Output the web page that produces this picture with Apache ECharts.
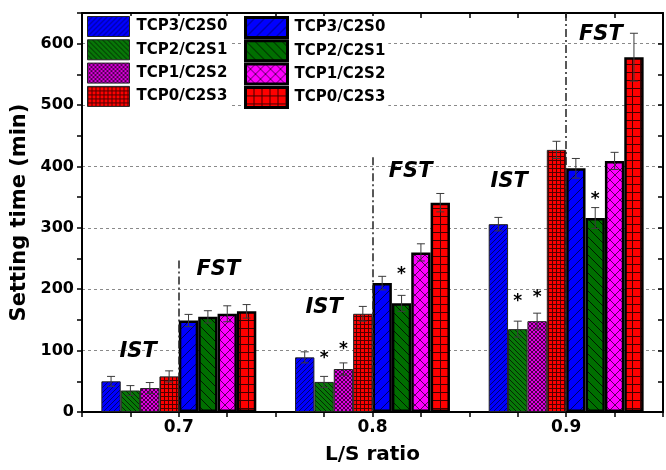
<!DOCTYPE html>
<html>
<head>
<meta charset="utf-8">
<script src="https://cdn.jsdelivr.net/npm/echarts@6/dist/echarts.min.js"></script>
<style>
html,body{margin:0;padding:0;background:#fff;}
#chart{width:666px;height:470px;}
</style>
</head>
<body>
<div id="chart"></div>
<script>
// ---- data ----
const lsRatio = [0.7, 0.8, 0.9];
const seriesNames = ['TCP3/C2S0', 'TCP2/C2S1', 'TCP1/C2S2', 'TCP0/C2S3'];
// IST (initial setting time)
const istTCP3 = [50, 89, 306];
const istTCP2 = [35, 49, 135];
const istTCP1 = [39, 70, 148];
const istTCP0 = [58, 160, 427];
const istErrTCP3 = [8, 9, 11];
const istErrTCP2 = [8, 9, 13];
const istErrTCP1 = [9, 10, 13];
const istErrTCP0 = [9, 12, 14];
// FST (final setting time)
const fstTCP3 = [149, 210, 397];
const fstTCP2 = [155, 177, 316];
const fstTCP1 = [160, 260, 409];
const fstTCP0 = [164, 341, 578];
const fstErrTCP3 = [10, 11, 16];
const fstErrTCP2 = [10, 13, 17];
const fstErrTCP1 = [13, 14, 14];
const fstErrTCP0 = [11, 15, 39];
// annotations
const annoX = [0.679, 0.7204, 0.775, 0.8197, 0.8706, 0.9179];
const annoY = [98, 232, 170, 392, 375, 615];
const annoText = ['IST', 'FST', 'IST', 'FST', 'IST', 'FST'];
const starX = [0.775, 0.785, 0.815, 0.875, 0.885, 0.915];
const starY = [94, 109, 230, 187, 193, 353];
// divider lines between IST and FST groups: [x, top value]
const dividerX = [0.7, 0.8, 0.9];
const dividerTop = [247, 415, 650];
const yTickLabels = [0, 100, 200, 300, 400, 500, 600];

// ---- patterns ----
function makePattern(bg, size, lineColor, lineWidth, kinds) {
  const c = document.createElement('canvas');
  c.width = size; c.height = size;
  const g = c.getContext('2d');
  g.fillStyle = bg; g.fillRect(0, 0, size, size);
  g.strokeStyle = lineColor; g.lineWidth = lineWidth;
  g.beginPath();
  kinds.forEach(k => {
    if (k === '/') {
      g.moveTo(-1, size + 1); g.lineTo(size + 1, -1);
      g.moveTo(-1, 1); g.lineTo(1, -1);
      g.moveTo(size - 1, size + 1); g.lineTo(size + 1, size - 1);
    } else if (k === '\\') {
      g.moveTo(-1, -1); g.lineTo(size + 1, size + 1);
      g.moveTo(size - 1, -1); g.lineTo(size + 1, 1);
      g.moveTo(-1, size - 1); g.lineTo(1, size + 1);
    } else if (k === '+') {
      g.moveTo(0.5, 0); g.lineTo(0.5, size);
      g.moveTo(0, 0.5); g.lineTo(size, 0.5);
    }
  });
  g.stroke();
  return { image: c, repeat: 'repeat' };
}
const istColors = [
  makePattern('#0000ff', 5, '#000070', 1, ['/']),
  makePattern('#087808', 5, '#022a02', 1, ['\\']),
  makePattern('#e000e0', 4, '#4a004a', 1, ['/', '\\']),
  makePattern('#ff0000', 4, '#500000', 1, ['+'])
];
const fstColors = [
  makePattern('#0000ff', 10, '#000060', 1, ['/']),
  makePattern('#006f00', 9, '#001a00', 1, ['\\']),
  makePattern('#ff00ff', 10, '#5a005a', 1, ['/', '\\']),
  makePattern('#ff0000', 8, '#400000', 1, ['+'])
];

const istVals = [istTCP3, istTCP2, istTCP1, istTCP0];
const istErrs = [istErrTCP3, istErrTCP2, istErrTCP1, istErrTCP0];
const fstVals = [fstTCP3, fstTCP2, fstTCP1, fstTCP0];
const fstErrs = [fstErrTCP3, fstErrTCP2, fstErrTCP1, fstErrTCP0];

const FONT = 'DejaVu Sans';
const BAR_FRAC = 0.1;            // bar width as fraction of category gap
const GAP = 0.1;                 // gap between L/S ratios
const BARW = GAP * BAR_FRAC;     // bar width in axis units

const series = [];
const errData = [];
seriesNames.forEach((n, i) => {
  series.push({
    name: n, type: 'bar', xAxisIndex: 0, yAxisIndex: 0,
    barWidth: (BAR_FRAC * 100) + '%', barGap: '0%',
    data: lsRatio.map((x, j) => [x, istVals[i][j]]),
    itemStyle: { color: istColors[i], borderColor: '#222', borderWidth: 1 },
    z: 2
  });
  lsRatio.forEach((x, j) => errData.push([x, istVals[i][j], istErrs[i][j], i]));
});
seriesNames.forEach((n, i) => {
  series.push({
    name: n + ' FST', type: 'bar', xAxisIndex: 0, yAxisIndex: 0,
    barWidth: (BAR_FRAC * 100) + '%', barGap: '0%',
    data: lsRatio.map((x, j) => [x, fstVals[i][j]]),
    itemStyle: { color: fstColors[i], borderColor: '#000', borderWidth: 2.5 },
    z: 2
  });
  lsRatio.forEach((x, j) => errData.push([x, fstVals[i][j], fstErrs[i][j], i + 4]));
});

series.push({
  type: 'custom', name: 'err', xAxisIndex: 0, yAxisIndex: 0, z: 4,
  encode: { x: 0, y: 1 },
  data: errData,
  renderItem: function (params, api) {
    const x = api.value(0) + (api.value(3) - 3.5) * BARW;
    const y = api.value(1), e = api.value(2);
    const hi = api.coord([x, y + e]);
    const lo = api.coord([x, y - e]);
    const cap = 4;
    const st = { stroke: '#3a3a3a', lineWidth: 1 };
    return {
      type: 'group', children: [
        { type: 'line', shape: { x1: hi[0], y1: hi[1], x2: lo[0], y2: lo[1] }, style: st },
        { type: 'line', shape: { x1: hi[0] - cap, y1: hi[1], x2: hi[0] + cap, y2: hi[1] }, style: st },
        { type: 'line', shape: { x1: lo[0] - cap, y1: lo[1], x2: lo[0] + cap, y2: lo[1] }, style: st }
      ]
    };
  }
});

series.push({
  type: 'scatter', name: 'anno', xAxisIndex: 0, yAxisIndex: 0, z: 5,
  symbolSize: 0, silent: true,
  itemStyle: { opacity: 1 },
  data: annoX.map((x, i) => ({ value: [x, annoY[i]], name: annoText[i] })),
  label: {
    show: true, position: 'inside', formatter: p => p.name,
    fontFamily: FONT, fontSize: 21, fontWeight: 'bold', fontStyle: 'italic', color: '#000', opacity: 1
  },
  markLine: {
    silent: true, symbol: 'none', z: 3,
    label: { show: false },
    lineStyle: { color: '#222', width: 1.5, type: [8, 3, 2, 3], opacity: 1 },
    data: dividerX.map((x, i) => [{ coord: [x, dividerTop[i]] }, { coord: [x, 0] }])
  }
});
series.push({
  type: 'scatter', name: 'star', xAxisIndex: 0, yAxisIndex: 0, z: 5,
  symbolSize: 0, silent: true,
  itemStyle: { opacity: 1 },
  data: starX.map((x, i) => [x, starY[i]]),
  label: {
    show: true, position: 'inside', formatter: '*', offset: [0, 4],
    fontFamily: FONT, fontSize: 17, fontWeight: 'bold', color: '#000', opacity: 1
  }
});

const axisLine = { show: true, onZero: false, lineStyle: { color: '#000', width: 2 } };
const tickStyle = { color: '#000', width: 1.5 };
const legendText = { fontFamily: FONT, fontSize: 15, fontWeight: 'bold', color: '#000', lineHeight: 20, padding: [0, 0, 0, 2] };

const option = {
  animation: false,
  backgroundColor: '#fff',
  grid: { left: 82, right: 3, top: 13, bottom: 54 },
  legend: [
    {
      orient: 'vertical', left: 87, top: 16, padding: [0, 3, 0, 0],
      itemWidth: 42, itemHeight: 20, itemGap: 2.3, icon: 'rect',
      backgroundColor: '#fff',
      selectedMode: false,
      itemStyle: { borderColor: '#222', borderWidth: 1 },
      textStyle: legendText,
      data: seriesNames
    },
    {
      orient: 'vertical', left: 244, top: 16, padding: [0, 3, 0, 0],
      itemWidth: 42, itemHeight: 20, itemGap: 0.3, icon: 'rect',
      backgroundColor: '#fff',
      selectedMode: false,
      itemStyle: { borderColor: '#000', borderWidth: 3 },
      textStyle: legendText,
      formatter: n => n.replace(' FST', ''),
      data: seriesNames.map(n => n + ' FST')
    }
  ],
  xAxis: [
    {
      type: 'value', position: 'bottom', min: 0.65, max: 0.95, interval: 0.025,
      axisLine: axisLine,
      axisTick: { show: true, length: 5, inside: false, lineStyle: tickStyle },
      axisLabel: {
        margin: 7, fontFamily: FONT, fontSize: 17, fontWeight: 'bold', color: '#000',
        showMinLabel: true, showMaxLabel: true,
        formatter: v => {
          const k = v * 10;
          if (Math.abs(k - Math.round(k)) < 1e-6) {
            const s = (Math.round(k) / 10).toFixed(1);
            return lsRatio.map(r => r.toFixed(1)).includes(s) ? s : '';
          }
          return '';
        }
      },
      splitLine: { show: false },
      name: 'L/S ratio', nameLocation: 'middle', nameGap: 33,
      nameTextStyle: { fontFamily: FONT, fontSize: 20, fontWeight: 'bold', color: '#000' }
    },
    {
      type: 'value', position: 'top', min: 0.65, max: 0.95, interval: 0.025,
      axisLine: axisLine,
      axisTick: { show: true, length: 5, inside: true, lineStyle: tickStyle },
      axisLabel: { show: false }, splitLine: { show: false }
    }
  ],
  yAxis: [
    {
      type: 'value', position: 'left', min: 0, max: 650, interval: 50,
      axisLine: axisLine,
      axisTick: { show: true, length: 5, inside: false, lineStyle: tickStyle },
      axisLabel: {
        margin: 8, fontFamily: FONT, fontSize: 16, fontWeight: 'bold', color: '#000',
        formatter: v => (yTickLabels.includes(v) ? String(v) : '')
      },
      splitLine: { show: false },
      name: 'Setting time (min)', nameLocation: 'middle', nameGap: 49, nameRotate: 90,
      nameTextStyle: { fontFamily: FONT, fontSize: 21, fontWeight: 'bold', color: '#000' }
    },
    {
      type: 'value', position: 'right', min: 0, max: 650, interval: 50,
      axisLine: axisLine,
      axisTick: { show: true, length: 5, inside: true, lineStyle: tickStyle },
      axisLabel: { show: false }, splitLine: { show: false }
    },
    {
      type: 'value', position: 'left', min: 0, max: 650, interval: 100,
      axisLine: { show: false }, axisTick: { show: false }, axisLabel: { show: false },
      splitLine: { show: true, lineStyle: { color: '#8a8a8a', width: 1, type: [3, 3] } }
    }
  ],
  series: series
};
const chart = echarts.init(document.getElementById('chart'), null, { renderer: 'canvas' });
chart.setOption(option);
</script>
</body>
</html>
